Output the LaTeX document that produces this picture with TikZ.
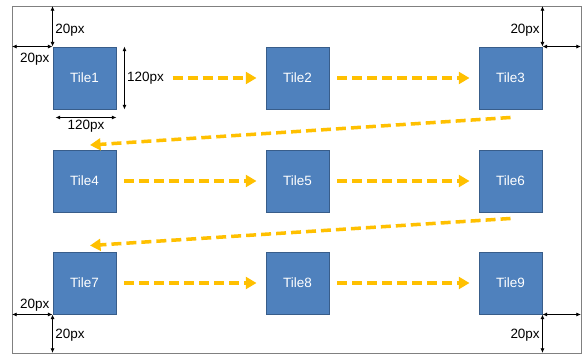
\documentclass[tikz,border=0pt]{standalone}
\usepackage{fontspec}
\setmainfont{Liberation Sans}
\usepackage{tikz}
\usetikzlibrary{arrows.meta}

\definecolor{tileblue}{RGB}{79,129,189}
\definecolor{tileedge}{RGB}{56,93,138}
\definecolor{flowgold}{RGB}{255,192,0}

\begin{document}
\begin{tikzpicture}[x=0.03cm, y=-0.03cm,
  tile/.style={draw=tileedge, fill=tileblue, text=white, line width=0.8pt,
    minimum width=1.89cm, minimum height=1.86cm, inner sep=0pt,
    font=\fontsize{11.5}{13}\selectfont},
  flow/.style={draw=flowgold, line width=3pt, dash pattern=on 8.5pt off 4.3pt,
    -{Triangle[length=9pt,width=10pt]}},
  dim/.style={black, line width=0.7pt,
    {Latex[length=4pt,width=3.5pt]}-{Latex[length=4pt,width=3.5pt]}},
  dimlabel/.style={font=\fontsize{11.5}{13}\selectfont, inner sep=2pt}]
  \useasboundingbox (0,0) rectangle (584,354);
  \coordinate (fnw) at (12,6);
  \coordinate (fse) at (581,353);
  \draw[gray, line width=0.8pt] (fnw) rectangle (fse);

  % tiles on a 3x3 grid
  \foreach \n/\cx/\cy in {1/84.5/78, 2/297.5/78, 3/510.5/78,
                          4/84.5/181, 5/297.5/181, 6/510.5/181,
                          7/84.5/283, 8/297.5/283, 9/510.5/283}
  {
    \node[tile] (tile\n) at (\cx,\cy) {Tile\n};
  }

  % scan order
  \draw[flow, shorten <=48pt, shorten >=7.7pt] (tile1) -- (tile2);
  \draw[flow, shorten <=6.8pt, shorten >=7.7pt] (tile2) -- (tile3);
  \draw[flow] ([shift={(0,8)}]tile3.south) -- ([shift={(5.5,-4.5)}]tile4.north);
  \draw[flow, shorten <=6.8pt, shorten >=7.7pt] (tile4) -- (tile5);
  \draw[flow, shorten <=6.8pt, shorten >=7.7pt] (tile5) -- (tile6);
  \draw[flow] ([shift={(0,6)}]tile6.south) -- ([shift={(5.5,-6)}]tile7.north);
  \draw[flow, shorten <=6.8pt, shorten >=7.7pt] (tile7) -- (tile8);
  \draw[flow, shorten <=6.8pt, shorten >=7.7pt] (tile8) -- (tile9);

  % margins and tile size
  \draw[dim] (tile1.north west) -- (tile1.north west |- fnw)
    node[dimlabel, pos=0.4, right] {20px};
  \draw[dim] (tile1.north west) -- (tile1.north west -| fnw)
    node[dimlabel, pos=0.44, below, yshift=-3pt] {20px};
  \draw[dim] ([shift={(8,0)}]tile1.north east) -- ([shift={(8,0)}]tile1.south east)
    node[dimlabel, midway, right] {120px};
  \draw[dim] ([shift={(3,8)}]tile1.south west) -- ([shift={(0,8)}]tile1.south east)
    node[dimlabel, midway, below] {120px};
  \draw[dim] (tile3.north east) -- (tile3.north east |- fnw)
    node[dimlabel, pos=0.4, left] {20px};
  \draw[dim] (tile3.north east) -- (tile3.north east -| fse);
  \draw[dim] (tile7.south west) -- (tile7.south west -| fnw)
    node[dimlabel, pos=0.44, above] {20px};
  \draw[dim] (tile7.south west) -- (tile7.south west |- fse)
    node[dimlabel, pos=0.55, right] {20px};
  \draw[dim] (tile9.south east) -- (tile9.south east -| fse);
  \draw[dim] (tile9.south east) -- (tile9.south east |- fse)
    node[dimlabel, pos=0.55, left] {20px};
\end{tikzpicture}
\end{document}
